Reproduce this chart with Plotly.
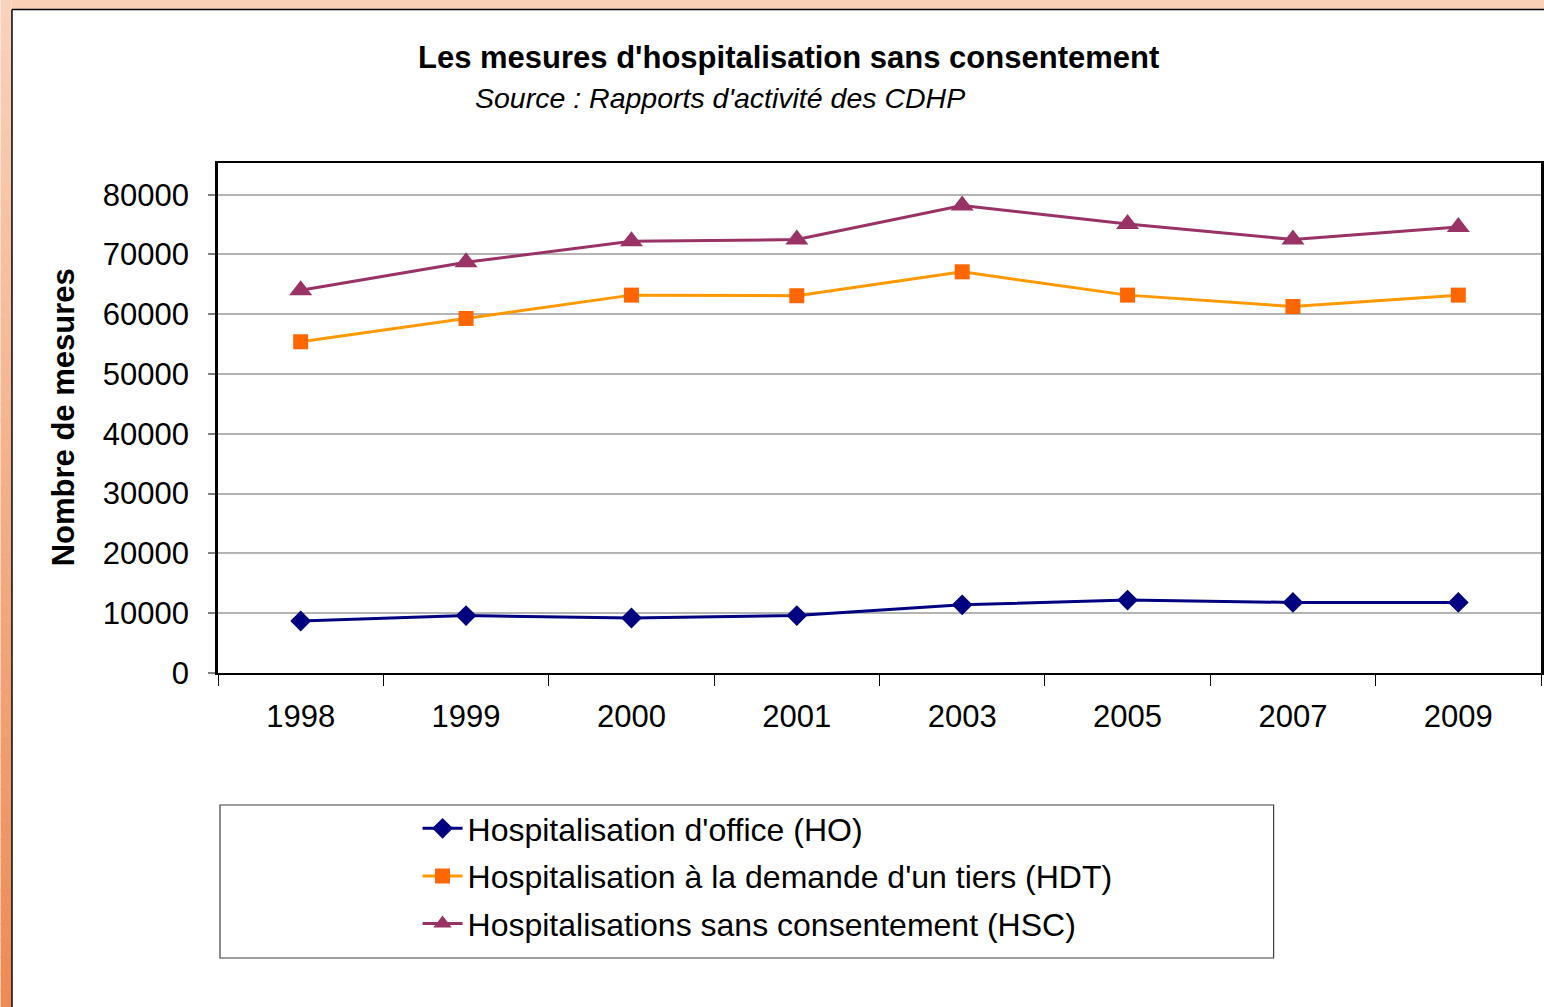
import plotly.graph_objects as go

years = ["1998", "1999", "2000", "2001", "2003", "2005", "2007", "2009"]
ho = [8700, 9600, 9200, 9600, 11400, 12200, 11800, 11800]
hdt = [55400, 59300, 63200, 63100, 67100, 63200, 61300, 63200]
hsc = [64000, 68700, 72200, 72500, 78200, 75100, 72500, 74600]
y_ticks = [0, 10000, 20000, 30000, 40000, 50000, 60000, 70000, 80000]

W, H = 1544, 1007
L, R, T, B = 218, 1544, 163, 673
pw, ph = R - L, B - T

def px(x):
    return (x - L) / pw

def py(y):
    return (B - y) / ph

FONT = "Liberation Sans, Arial, sans-serif"

fig = go.Figure()
fig.add_trace(go.Scatter(x=years, y=ho, mode="lines+markers", name="Hospitalisation d'office (HO)",
                         legendgroup="a",
                         line=dict(color="#000080", width=3),
                         marker=dict(symbol="diamond", size=16, color="#000080")))
fig.add_trace(go.Scatter(x=years, y=hdt, mode="lines+markers", name="Hospitalisation à la demande d'un tiers (HDT)",
                         legendgroup="b",
                         line=dict(color="#ff9900", width=3),
                         marker=dict(symbol="square", size=15, color="#ff6600")))
fig.add_trace(go.Scatter(x=years, y=hsc, mode="lines+markers", name="Hospitalisations sans consentement (HSC)",
                         legendgroup="c",
                         line=dict(color="#993366", width=3),
                         marker=dict(symbol="triangle-up", size=20, color="#993366")))

shapes = []
# left gradient strip
n = 60
c0 = (250, 210, 186)
c1 = (238, 138, 85)
for i in range(n):
    t = i / (n - 1)
    col = tuple(int(round(c0[k] + (c1[k] - c0[k]) * t)) for k in range(3))
    y0 = H * i / n
    y1 = H * (i + 1) / n + 1
    shapes.append(dict(type="rect", xref="paper", yref="paper", layer="below",
                       x0=px(0), x1=px(11), y0=py(y0), y1=py(y1),
                       fillcolor="rgb(%d,%d,%d)" % col, line=dict(width=0)))
# top strip
shapes.append(dict(type="rect", xref="paper", yref="paper", layer="below",
                   x0=px(11), x1=px(W + 5), y0=py(0), y1=py(9),
                   fillcolor="rgb(250,208,182)", line=dict(width=0)))
# card border lines
shapes.append(dict(type="line", xref="paper", yref="paper", layer="below",
                   x0=px(11.5), x1=px(W + 5), y0=py(9.5), y1=py(9.5),
                   line=dict(color="black", width=1.5)))
shapes.append(dict(type="line", xref="paper", yref="paper", layer="below",
                   x0=px(11.5), x1=px(11.5), y0=py(9.5), y1=py(H + 5),
                   line=dict(color="black", width=1.5)))
# legend box
shapes.append(dict(type="rect", xref="paper", yref="paper", layer="below",
                   x0=px(220), x1=px(1276), y0=py(805), y1=py(958),
                   fillcolor="white", line=dict(color="#404040", width=1.2)))

annotations = [
    dict(text="<b>Les mesures d'hospitalisation sans consentement</b>", xref="paper", yref="paper",
         x=px(790), y=py(57), showarrow=False, xanchor="center", yanchor="middle",
         font=dict(family=FONT, size=31, color="black")),
    dict(text="<i>Source : Rapports d'activité des CDHP</i>", xref="paper", yref="paper",
         x=px(721), y=py(98), showarrow=False, xanchor="center", yanchor="middle",
         font=dict(family=FONT, size=28.5, color="black")),
    dict(text="<b>Nombre de mesures</b>", xref="paper", yref="paper",
         x=px(63), y=py(417), showarrow=False, xanchor="center", yanchor="middle", textangle=-90,
         font=dict(family=FONT, size=31, color="black")),
]

fig.update_layout(
    width=W, height=H,
    margin=dict(l=L, r=W - R, t=T, b=H - B, pad=0),
    paper_bgcolor="white", plot_bgcolor="rgba(0,0,0,0)",
    showlegend=True,
    legend=dict(x=px(418), y=py(801), xanchor="left", yanchor="top",
                bgcolor="rgba(0,0,0,0)", borderwidth=0,
                font=dict(family=FONT, size=32, color="black"),
                tracegroupgap=3, itemwidth=40),
    shapes=shapes, annotations=annotations,
    xaxis=dict(type="category", showgrid=False, tickson="boundaries", ticks="outside",
               ticklen=11, tickwidth=1.2, tickcolor="black",
               showline=True, linecolor="black", linewidth=2, mirror=True,
               tickfont=dict(family=FONT, size=31, color="black"),
               ticklabelstandoff=15, range=[-0.5, 7.5]),
    yaxis=dict(range=[0, 85300], tickvals=y_ticks, ticktext=[str(v) for v in y_ticks],
               showgrid=True, gridcolor="#b4b4b4", gridwidth=1.5,
               ticks="outside", ticklen=7, tickwidth=1.5, tickcolor="#808080",
               showline=True, linecolor="black", linewidth=2.5, mirror=True,
               zeroline=False,
               tickfont=dict(family=FONT, size=31, color="black"),
               ticklabelstandoff=13),
)

fig.write_html("out.html", config={"displayModeBar": False},
               post_script="document.body.style.margin='0';document.body.style.overflow='hidden';")
